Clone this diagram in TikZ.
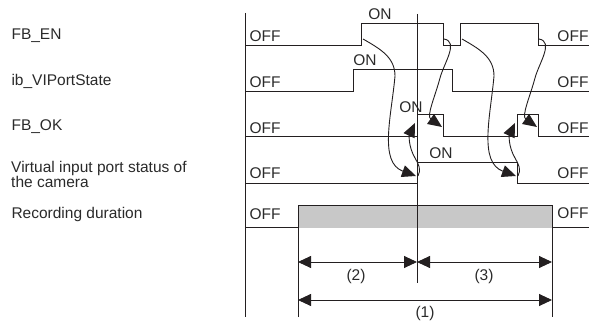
\documentclass[tikz,border=0pt]{standalone}
\usepackage{fontspec}
\setmainfont{Liberation Sans}
\usetikzlibrary{arrows.meta}
\definecolor{ink}{HTML}{231F20}
\definecolor{txt}{HTML}{2A2A2A}
\definecolor{band}{HTML}{C8C8C8}

\begin{document}
\begin{tikzpicture}[x=1pt,y=-1pt,
    font=\fontsize{15.5}{17}\selectfont, text=txt,
    wave/.style={draw=ink,line width=1pt},
    cause/.style={draw=ink,line width=0.9pt,-{Triangle[length=14pt,width=12pt]}},
    span/.style={draw=ink,line width=0.9pt,{Triangle[length=13pt,width=12pt]}-{Triangle[length=13pt,width=12pt]}}]
  \useasboundingbox (0,0) rectangle (589,323);

  \node[anchor=west] (EN)  at (8,36)   {FB\_EN};
  \node[anchor=west] (VI)  at (8,81)   {ib\_VIPortState};
  \node[anchor=west] (OK)  at (8,127)  {FB\_OK};
  \node[anchor=west,align=left,inner sep=3pt] (CAM) at (8,174) {Virtual input port status of\\[-2pt]the camera};
  \node[anchor=west] (REC) at (8,214)  {Recording duration};

  \node[anchor=west] (o1) at (246,36)  {OFF};
  \node[anchor=west] (o2) at (246,82)  {OFF};
  \node[anchor=west] (o3) at (246,128) {OFF};
  \node[anchor=west] (o4) at (246,173) {OFF};
  \node[anchor=west] (o5) at (246,214) {OFF};
  \node[anchor=east] (e1) at (592,36)  {OFF};
  \node[anchor=east] (e2) at (592,82)  {OFF};
  \node[anchor=east] (e3) at (592,128) {OFF};
  \node[anchor=east] (e4) at (592,173) {OFF};
  \node[anchor=east] (e5) at (592,213) {OFF};

  \node (on1) at (380,14)  {ON};
  \node (on2) at (365,60)  {ON};
  \node (on3) at (411,107) {ON};
  \node (on4) at (441,153) {ON};

  \fill[band] (298,206) rectangle (552,228);
  \draw[wave] (245,13) -- (245,317);
  \draw[wave] (245,46) -- (361,46) -- (361,24) -- (443,24) -- (443,46) -- (460,46)
              -- (460,24) -- (538,24) -- (538,46) -- (589,46);
  \draw[wave] (245,92) -- (353,92) -- (353,70) -- (452,70) -- (452,92) -- (589,92);
  \draw[wave] (245,137) -- (417,137) -- (417,115) -- (443,115) -- (443,137) -- (517,137)
              -- (517,115) -- (538,115) -- (538,137) -- (589,137);
  \draw[wave] (245,184) -- (417,184) -- (417,163) -- (517,163) -- (517,184) -- (589,184);
  \draw[wave] (245,228) -- (298,228);
  \draw[wave] (552,228) -- (589,228);
  \draw[wave] (298,317) -- (298,206) -- (552,206) -- (552,317);
  \draw[wave] (417,14) -- (417,283);

  \coordinate (p1) at (363,39);  \coordinate (q1) at (416,176);
  \coordinate (p2) at (418,176); \coordinate (q2) at (415,123);
  \coordinate (p3) at (444,39);  \coordinate (q3) at (442,127);
  \coordinate (p4) at (462,39);  \coordinate (q4) at (516,176);
  \coordinate (p5) at (518,176); \coordinate (q5) at (515,123);
  \coordinate (p6) at (539,39);  \coordinate (q6) at (537,127);
  \draw[cause] (p1) to[out=-30,in=90] (395,76) to[out=-95,in=160] (q1);
  \draw[cause] (p2) to[out=60,in=-60] (415,158) to[out=120,in=-115] (q2);
  \draw[cause] (p3) to[out=-10,in=75] (440,78) to[out=-105,in=145] (q3);
  \draw[cause] (p4) to[out=-30,in=90] (494,76) to[out=-95,in=160] (q4);
  \draw[cause] (p5) to[out=60,in=-60] (515,158) to[out=120,in=-115] (q5);
  \draw[cause] (p6) to[out=-10,in=75] (535,78) to[out=-105,in=145] (q6);

  \coordinate (t1) at (298,262); \coordinate (t2) at (417,262); \coordinate (t3) at (552,262);
  \coordinate (b1) at (298,300); \coordinate (b2) at (552,300);
  \draw[span] (t1) -- (t2);
  \draw[span] (t2) -- (t3);
  \draw[span] (b1) -- (b2);
  \node (d2) at (356,276) {(2)};
  \node (d3) at (484,276) {(3)};
  \node (d1) at (425,313) {(1)};
\end{tikzpicture}
\end{document}
